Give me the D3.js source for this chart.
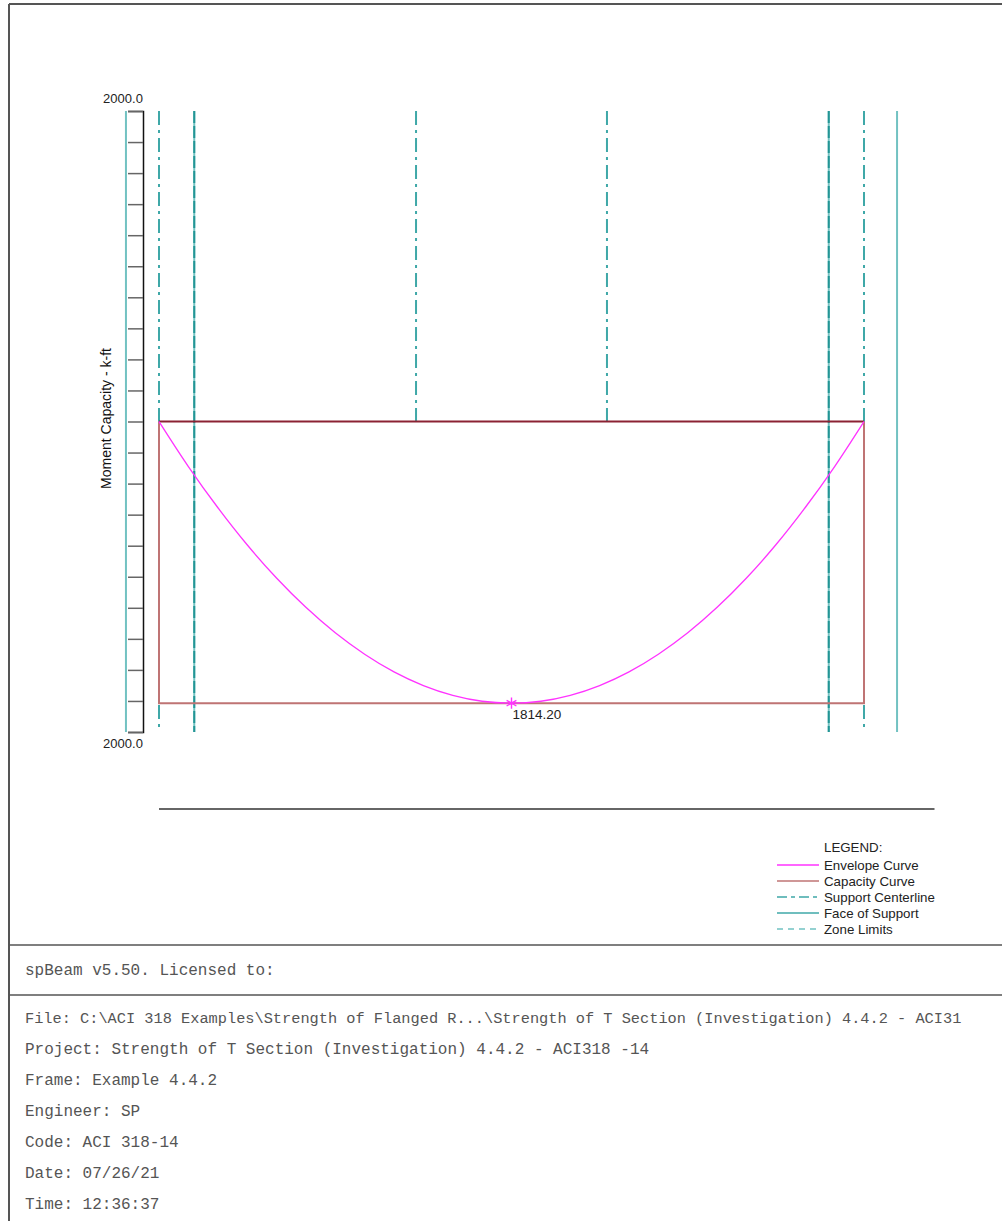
<!DOCTYPE html>
<html>
<head>
<meta charset="utf-8">
<script src="https://cdn.jsdelivr.net/npm/d3@7"></script>
<style>
  body { margin: 0; background: #fff; }
  svg { display: block; font-family: "Liberation Sans", Arial, sans-serif; }
  .mono { font-family: "Liberation Mono", "Courier New", monospace; font-size: 16px; fill: #555; }
</style>
</head>
<body>
<svg id="chart" width="1002" height="1221"></svg>
<script>
// span positions in ft, moments in k-ft
let envX = [0, 1, 2, 3, 4, 5, 6, 7, 8, 9, 10, 11, 12, 13, 14, 15, 16, 17, 18, 19, 20, 21, 22, 23, 24];
let envM = [0, 290, 554, 794, 1008, 1197, 1361, 1499, 1613, 1701, 1764, 1802, 1814.2, 1802, 1764, 1701, 1613, 1499, 1361, 1197, 1008, 794, 554, 290, 0];
let capX = [0, 0, 24, 24];
let capM = [0, 1814.2, 1814.2, 0];
let capTopX = [0, 24];
let capTopM = [0, 0];
let peak = {x: 12, m: 1814.2, label: "1814.20"};

let supportCenterline = [0, 24];
let faceOfSupport = [1.2, 22.8];
let zoneLimits = [8.75, 15.25];
let columnEdges = [-1.125, 25.125];
let beamLine = [0, 26.4];

let yTicks = [-2000, -1800, -1600, -1400, -1200, -1000, -800, -600, -400, -200, 0,
    200, 400, 600, 800, 1000, 1200, 1400, 1600, 1800, 2000];
let yEndLabels = ["2000.0", "2000.0"];

let legendNames = ["Envelope Curve", "Capacity Curve", "Support Centerline", "Face of Support", "Zone Limits"];

let footerTop = "spBeam v5.50. Licensed to:";
let footerLines = [
    "File: C:\\ACI 318 Examples\\Strength of Flanged R...\\Strength of T Section (Investigation) 4.4.2 - ACI31",
    "Project: Strength of T Section (Investigation) 4.4.2 - ACI318 -14",
    "Frame: Example 4.4.2",
    "Engineer: SP",
    "Code: ACI 318-14",
    "Date: 07/26/21",
    "Time: 12:36:37"
];

let teal = "#3fa8a8";
let tealLight = "#72c2c2";
let tealDark = "#239595";
let capColor = "#bf7474";
let envColor = "#ff33ff";

let svg = d3.select('#chart');

// page frame
svg.append('line').attr('x1', 9).attr('x2', 1002).attr('y1', 4).attr('y2', 4)
    .attr('stroke', '#555').attr('stroke-width', 2);
svg.append('line').attr('x1', 9).attr('x2', 9).attr('y1', 4).attr('y2', 1221)
    .attr('stroke', '#555').attr('stroke-width', 2);
[945, 995].forEach(y => {
    svg.append('line').attr('x1', 9).attr('x2', 1002).attr('y1', y).attr('y2', y)
        .attr('stroke', '#555').attr('stroke-width', 1.5);
});

let xScale = d3.scaleLinear().domain([0, 24]).range([159, 864]);
let yScale = d3.scaleLinear().domain([-2000, 2000]).range([111, 732]);

// y axis
let yAxis = d3.axisLeft(yScale)
    .tickValues(yTicks)
    .tickSize(15)
    .tickSizeOuter(15)
    .tickFormat('');
let axisG = svg.append('g')
    .attr('transform', 'translate(143,0)')
    .call(yAxis);
axisG.select('.domain').attr('stroke', '#111').attr('stroke-width', 1.5);
axisG.selectAll('.tick line').attr('stroke', '#666').attr('stroke-width', 1.5);

svg.append('text').attr('x', 123).attr('y', yScale(-2000) - 8)
    .attr('text-anchor', 'middle').attr('font-size', 13).attr('fill', '#222')
    .text(yEndLabels[0]);
svg.append('text').attr('x', 123).attr('y', yScale(2000) + 16)
    .attr('text-anchor', 'middle').attr('font-size', 13).attr('fill', '#222')
    .text(yEndLabels[1]);
svg.append('text')
    .attr('transform', 'translate(111,' + (yScale(0) - 3) + ') rotate(-90)')
    .attr('text-anchor', 'middle').attr('font-size', 14).attr('fill', '#111')
    .text('Moment Capacity - k-ft');

// vertical reference lines
let vlines = svg.append('g');
function vline(x, m0, m1, color, width, dash) {
    let l = vlines.append('line')
        .attr('x1', xScale(x)).attr('x2', xScale(x))
        .attr('y1', yScale(m0)).attr('y2', yScale(m1))
        .attr('stroke', color).attr('stroke-width', width);
    if (dash) l.attr('stroke-dasharray', dash);
}
columnEdges.forEach(x => vline(x, -2000, 2000, tealLight, 2));
supportCenterline.forEach(x => vline(x, -2000, 2000, teal, 2, '14,5,3,5'));
faceOfSupport.forEach(x => {
    vline(x, -2000, 2000, tealLight, 2);
    vline(x, -2000, 2000, tealDark, 2, '12,3');
});
zoneLimits.forEach(x => vline(x, -2000, 0, teal, 2, '14,5,3,5'));

// capacity curve
let line = d3.line()
    .x(d => xScale(d[0]))
    .y(d => yScale(d[1]));
svg.append('path')
    .attr('d', line(d3.zip(capX, capM)))
    .attr('fill', 'none').attr('stroke', capColor).attr('stroke-width', 2);
svg.append('path')
    .attr('d', line(d3.zip(capTopX, capTopM)))
    .attr('fill', 'none').attr('stroke', '#8b2233').attr('stroke-width', 2);

// envelope curve
let envLine = d3.line()
    .x(d => xScale(d[0]))
    .y(d => yScale(d[1]))
    .curve(d3.curveMonotoneX);
svg.append('path')
    .attr('d', envLine(d3.zip(envX, envM)))
    .attr('fill', 'none').attr('stroke', envColor).attr('stroke-width', 1.3);

// peak marker
svg.append('path')
    .attr('d', d3.symbol(d3.symbolAsterisk, 90)())
    .attr('transform', 'translate(' + xScale(peak.x) + ',' + yScale(peak.m) + ')')
    .attr('fill', 'none').attr('stroke', envColor).attr('stroke-width', 1.4);
svg.append('text')
    .attr('x', xScale(peak.x) + 1).attr('y', yScale(peak.m) + 16)
    .attr('font-size', 13.5).attr('fill', '#222')
    .text(peak.label);

// beam line
svg.append('line')
    .attr('x1', xScale(beamLine[0])).attr('x2', xScale(beamLine[1]))
    .attr('y1', 809).attr('y2', 809)
    .attr('stroke', '#666').attr('stroke-width', 2);

// legend
let legend = svg.append('g').attr('transform', 'translate(777,848)');
legend.append('text').attr('x', 47).attr('y', 4)
    .attr('font-size', 13.3).attr('fill', '#222').text('LEGEND:');
let legStyles = [
    {color: envColor, dash: null},
    {color: capColor, dash: null},
    {color: teal, dash: '10,4,4,4'},
    {color: teal, dash: null},
    {color: tealLight, dash: '6,5'}
];
let gr = legend.selectAll('g.item')
    .data(legendNames)
    .enter()
    .append('g')
    .attr('class', 'item')
    .attr('transform', (d, i) => 'translate(0,' + (17 + i * 16) + ')');
gr.append('line')
    .attr('x1', 0).attr('x2', 42).attr('y1', 0).attr('y2', 0)
    .attr('stroke', (d, i) => legStyles[i].color)
    .attr('stroke-width', 1.5)
    .attr('stroke-dasharray', (d, i) => legStyles[i].dash);
gr.append('text')
    .attr('x', 47).attr('y', 4.5)
    .attr('font-size', 13.3).attr('fill', '#222')
    .text(d => d);

// footer
svg.append('text').attr('class', 'mono').attr('x', 25).attr('y', 975).text(footerTop);
svg.selectAll('text.foot')
    .data(footerLines)
    .enter()
    .append('text')
    .attr('class', 'mono foot')
    .attr('x', 25)
    .attr('y', (d, i) => 1023 + i * 31)
    .style('font-size', (d, i) => i === 0 ? '15.3px' : null)
    .text(d => d);
</script>
</body>
</html>
